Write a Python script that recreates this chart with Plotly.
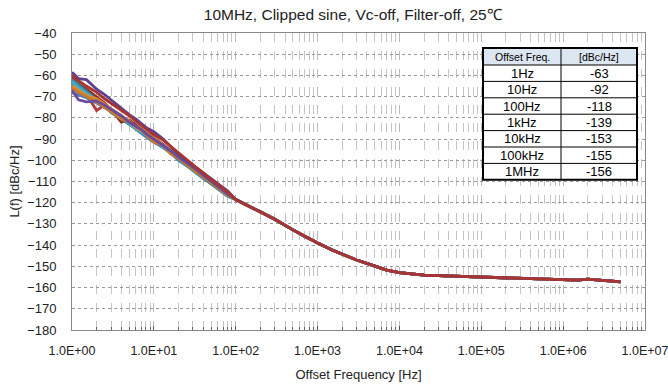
import plotly.graph_objects as go

# ---------------- data ----------------
low_freq = [1, 1.2, 1.5, 2, 2.5, 3, 4, 5, 6, 7, 8, 10, 13, 16, 20, 25, 32, 40, 50, 63, 80]

tail_freq = [100, 150, 200, 300, 500, 700, 1000, 1500, 2000, 3000, 4000, 5000, 7000,
             10000, 15000, 20000, 30000, 50000, 70000, 100000, 200000, 400000, 700000,
             1000000, 1500000, 2000000, 2500000, 3000000, 4000000, 5000000]
tail_level = [-118.5, -122, -124.2, -127.8, -132.8, -136, -139, -142.3, -144.3, -147, -148.6,
              -150, -151.8, -153, -153.8, -154.1, -154.4, -154.7, -154.9, -155.1, -155.4,
              -155.9, -156.3, -156.5, -156.5, -156, -156.2, -156.6, -157, -157.3]

curve_d = [-63, -66, -69, -76.5, -74, -76.5, -80, -82, -84, -86, -87.5, -90, -93, -96, -99,
           -101.5, -104.5, -107.5, -110.5, -113, -116]
curve_e = [-61, -64, -66.5, -70, -73, -76, -82, -81, -83.5, -85.5, -87, -89.5, -92.5, -95.5,
           -98, -101, -104, -107, -110, -113, -116]
curve_f = [-64, -66.5, -69, -72, -74.5, -76.5, -80, -82.5, -84.5, -86.5, -88, -90.5, -93.5,
           -96.5, -99.5, -102, -105, -108, -111, -113.5, -116.5]
curve_k = [-68, -69, -70.5, -73, -75, -77, -80, -83, -85.5, -87.5, -89, -91.5, -94, -96.5,
           -100, -102.5, -105.5, -108.5, -111, -114, -117]
curve_g = [-62, -64.5, -68, -71.5, -74, -77.5, -80.5, -83, -85, -87, -88.5, -91, -94, -96.5,
           -99.5, -102.5, -105.5, -108.5, -111, -114, -117]
curve_j = [-63, -66, -68.5, -72, -74, -76, -79.5, -82.5, -85, -86.5, -88, -90.5, -93.5, -96,
           -99, -101.5, -104.5, -107.5, -110.5, -113.5, -116.5]
curve_h = [-65, -67, -69.5, -71, -73.5, -75.5, -79, -81.5, -84.5, -86, -87, -89.5, -93, -95,
           -98.5, -101.5, -104, -107.5, -110, -113, -116]
curve_i = [-66, -68, -70, -72.5, -75, -77, -80.5, -82, -84, -85, -88, -91.5, -93, -97, -99,
           -102, -105, -108, -110.5, -113.5, -116.5]
curve_c = [-67, -71.5, -72.5, -72, -74, -76, -79, -82, -84, -85.5, -87.5, -90, -93, -95.5,
           -98.5, -101, -104, -107, -110, -113, -116]
curve_a = [-58.5, -61.5, -62, -66.5, -69, -71.5, -75.5, -78.5, -80.5, -82.5, -84.5, -86.5,
           -90, -93.5, -97, -100, -103, -106, -108.5, -111.5, -114.5]
curve_b = [-60, -62.5, -65, -68, -71, -73, -76.5, -79, -81.5, -83.5, -85, -88, -90.5, -93.5,
           -96.5, -99.5, -103, -106, -109, -112, -115]

curves = [curve_d, curve_e, curve_f, curve_k, curve_g, curve_j, curve_h, curve_i, curve_c,
          curve_a, curve_b]
colors = ['#B23B3B', '#8E2E2A', '#3E6FA8', '#4A7EBB', '#2E93A8', '#4BACC6', '#E3892F',
          '#C8782A', '#6A4B9C', '#5B4190', '#A8352F']

table_header = ['Offset Freq.', '[dBc/Hz]']
table_freq = ['1Hz', '10Hz', '100Hz', '1kHz', '10kHz', '100kHz', '1MHz']
table_level = ['-63', '-92', '-118', '-139', '-153', '-155', '-156']

x_tickvals = [1, 10, 100, 1e3, 1e4, 1e5, 1e6, 1e7]
x_ticktext = ['1.0E+00', '1.0E+01', '1.0E+02', '1.0E+03', '1.0E+04', '1.0E+05',
              '1.0E+06', '1.0E+07']
minor_mult = [2, 3, 4, 5, 6, 7, 8, 9]
minor_vals = [d * m for d in x_tickvals[:-1] for m in minor_mult]

# ---------------- figure ----------------
FONT = 'Liberation Sans, Arial, sans-serif'
W, H = 668, 385
ML, MR, MT, MB = 72, 23, 33, 55
PW, PH = W - ML - MR, H - MT - MB

fig = go.Figure()

for vals, col in zip(curves, colors):
    fig.add_trace(go.Scatter(
        x=low_freq + tail_freq, y=vals + tail_level, mode='lines',
        line=dict(color=col, width=2.8), showlegend=False, hoverinfo='skip'))

# ---- inset table (built from shapes + annotations, in paper coordinates) ----
def px_x(px):
    return (px - ML) / PW


def px_y(py):
    return (H - MB - py) / PH


tx0, tx1, txm = 483, 637, 561
ty0, head_h, row_h = 48, 17, 16.4
n_rows = len(table_freq)
ty1 = ty0 + head_h + n_rows * row_h

shapes = []
shapes.append(dict(type='rect', xref='paper', yref='paper', x0=px_x(tx0), x1=px_x(tx1),
                   y0=px_y(ty0 + head_h), y1=px_y(ty0), fillcolor='#DCE6F1',
                   line=dict(width=0), layer='above'))
shapes.append(dict(type='rect', xref='paper', yref='paper', x0=px_x(tx0), x1=px_x(tx1),
                   y0=px_y(ty1), y1=px_y(ty0 + head_h), fillcolor='white',
                   line=dict(width=0), layer='above'))
for i in range(n_rows):
    yy = px_y(ty0 + head_h + i * row_h)
    shapes.append(dict(type='line', xref='paper', yref='paper', x0=px_x(tx0), x1=px_x(tx1),
                       y0=yy, y1=yy, line=dict(color='black', width=1), layer='above'))
shapes.append(dict(type='line', xref='paper', yref='paper', x0=px_x(txm), x1=px_x(txm),
                   y0=px_y(ty1), y1=px_y(ty0), line=dict(color='black', width=1),
                   layer='above'))
shapes.append(dict(type='rect', xref='paper', yref='paper', x0=px_x(tx0), x1=px_x(tx1),
                   y0=px_y(ty1), y1=px_y(ty0), line=dict(color='black', width=2),
                   layer='above'))

annotations = []
cx = [(tx0 + txm) / 2, (txm + tx1) / 2]
for j, txt in enumerate(table_header):
    annotations.append(dict(xref='paper', yref='paper', x=px_x(cx[j]),
                            y=px_y(ty0 + head_h / 2), text=txt, showarrow=False,
                            xanchor='center', yanchor='middle',
                            font=dict(family=FONT, size=10.5, color='black')))
for i in range(n_rows):
    yc = px_y(ty0 + head_h + (i + 0.5) * row_h)
    for j, txt in enumerate([table_freq[i], table_level[i]]):
        annotations.append(dict(xref='paper', yref='paper', x=px_x(cx[j]), y=yc, text=txt,
                                showarrow=False, xanchor='center', yanchor='middle',
                                font=dict(family=FONT, size=13, color='black')))

fig.update_layout(
    width=W, height=H,
    margin=dict(l=ML, r=MR, t=MT, b=MB, autoexpand=False),
    paper_bgcolor='white', plot_bgcolor='white',
    font=dict(family=FONT, size=13, color='#222'),
    shapes=shapes, annotations=annotations,
    title=dict(text='10MHz, Clipped sine, Vc-off, Filter-off, 25℃', x=0.528, xanchor='center',
               y=0.975, yanchor='top', font=dict(size=15.5, color='#222')),
    xaxis=dict(type='log', range=[0, 7], tickvals=x_tickvals, ticktext=x_ticktext,
               automargin=False,
               showgrid=True, gridcolor='#BBBBBB', griddash='dash', gridwidth=1,
               showline=True, linecolor='#888888', linewidth=1, mirror=True,
               ticks='inside', ticklen=4, tickcolor='#555', ticklabelstandoff=9,
               ticklabeloverflow='allow',
               minor=dict(tickvals=minor_vals, showgrid=True, gridcolor='#C4C4C4',
                          griddash='dash', gridwidth=1, ticks='inside', ticklen=3,
                          tickcolor='#666'),
               tickfont=dict(size=12.5, color='#222'), zeroline=False,
               title=dict(text='Offset Frequency [Hz]', font=dict(size=13), standoff=12)),
    yaxis=dict(range=[-180, -40], dtick=10, showgrid=True, gridcolor='#999999',
               automargin=False,
               griddash='dot', gridwidth=1, showline=True, linecolor='#888888',
               linewidth=1, mirror=True, ticks='', zeroline=False, ticklabelstandoff=12,
               tickfont=dict(size=13, color='#222'),
               title=dict(text='L(f) [dBc/Hz]', font=dict(size=13), standoff=4)),
)

fig.write_html('out.html')
